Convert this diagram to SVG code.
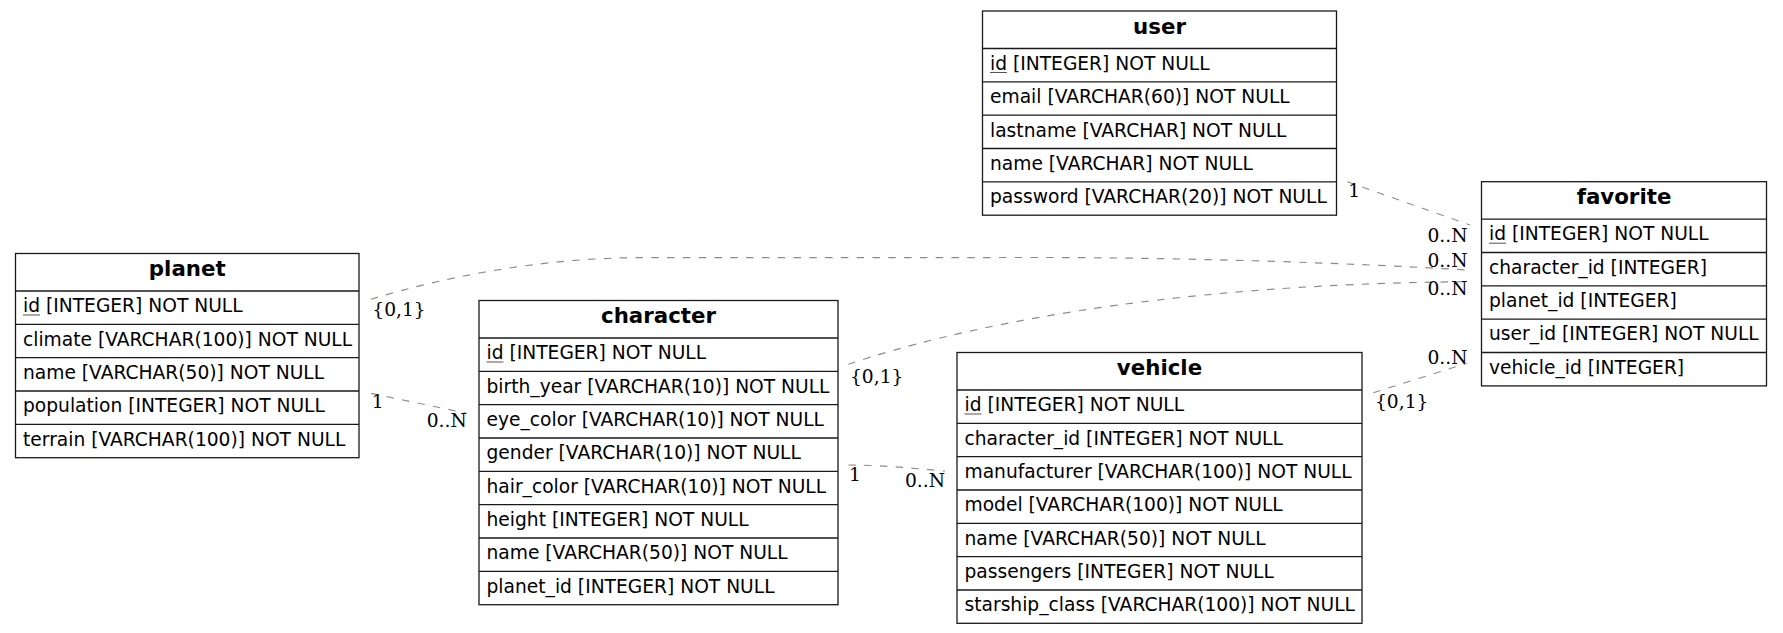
<svg xmlns="http://www.w3.org/2000/svg" width="1783" height="633" viewBox="0 0 1783 633">
<style>
.box{fill:#fff;stroke:#1a1a1a;stroke-width:1.3}
.sep{stroke:#1a1a1a;stroke-width:1.3}
.hdr{font-family:"DejaVu Sans",sans-serif;font-weight:bold;font-size:21.33px;fill:#000;text-anchor:middle}
.row{font-family:"DejaVu Sans",sans-serif;font-size:18.67px;fill:#000}
.ul{stroke:#555;stroke-width:1}
.edge{fill:none;stroke:#8c8c8c;stroke-width:1.2;stroke-dasharray:7.5,8.3}
.lbl{font-family:"DejaVu Serif",serif;font-size:18.67px;fill:#000}
.end{text-anchor:end}
</style>
<g id="connectors">
<path class="edge" d="M371,299.3 C440,278 540,257.7 640,257.7 L1050,257.5 C1200,258 1350,263 1466.7,270"/>
<path class="edge" d="M848.3,364.3 C950,330 1150,284 1470,281.7"/>
<path class="edge" d="M1347.3,181.7 L1470,225"/>
<path class="edge" d="M1373.3,392.7 L1466.7,363.3"/>
<path class="edge" d="M371,393.3 L466.7,413.3"/>
<path class="edge" d="M848.3,465 C880,465 910,468 945,471"/>
<text class="lbl" x="372.3" y="316">{0,1}</text>
<text class="lbl" x="371.7" y="407.5">1</text>
<text class="lbl" x="426.7" y="426.7">0..N</text>
<text class="lbl" x="850" y="382.5">{0,1}</text>
<text class="lbl" x="849" y="480.5">1</text>
<text class="lbl" x="905" y="486.5">0..N</text>
<text class="lbl" x="1348.3" y="196.7">1</text>
<text class="lbl" x="1375" y="407.5">{0,1}</text>
<text class="lbl end" x="1467.5" y="241.7">0..N</text>
<text class="lbl end" x="1467.5" y="266.7">0..N</text>
<text class="lbl end" x="1467.5" y="294.5">0..N</text>
<text class="lbl end" x="1467.5" y="364.3">0..N</text>
</g>
<g id="planet" transform="translate(15.5,253.5)">
<rect class="box" x="0" y="0" width="343.5" height="204.2"/>
<path class="sep" d="M0,37.5H343.5M0,70.8H343.5M0,104.2H343.5M0,137.5H343.5M0,170.8H343.5"/>
<text class="hdr" x="171.75" y="22.8">planet</text>
<text class="row" x="7.5" y="58.8">id [INTEGER] NOT NULL</text>
<line class="ul" x1="7.5" y1="61.5" x2="24.5" y2="61.5"/>
<text class="row" x="7.5" y="92.1">climate [VARCHAR(100)] NOT NULL</text>
<text class="row" x="7.5" y="125.5">name [VARCHAR(50)] NOT NULL</text>
<text class="row" x="7.5" y="158.8">population [INTEGER] NOT NULL</text>
<text class="row" x="7.5" y="192.1">terrain [VARCHAR(100)] NOT NULL</text>
</g>
<g id="character" transform="translate(479,300.5)">
<rect class="box" x="0" y="0" width="359" height="304.2"/>
<path class="sep" d="M0,37.5H359M0,70.8H359M0,104.2H359M0,137.5H359M0,170.8H359M0,204.2H359M0,237.5H359M0,270.8H359"/>
<text class="hdr" x="179.5" y="22.8">character</text>
<text class="row" x="7.5" y="58.8">id [INTEGER] NOT NULL</text>
<line class="ul" x1="7.5" y1="61.5" x2="24.5" y2="61.5"/>
<text class="row" x="7.5" y="92.1">birth_year [VARCHAR(10)] NOT NULL</text>
<text class="row" x="7.5" y="125.5">eye_color [VARCHAR(10)] NOT NULL</text>
<text class="row" x="7.5" y="158.8">gender [VARCHAR(10)] NOT NULL</text>
<text class="row" x="7.5" y="192.1">hair_color [VARCHAR(10)] NOT NULL</text>
<text class="row" x="7.5" y="225.5">height [INTEGER] NOT NULL</text>
<text class="row" x="7.5" y="258.8">name [VARCHAR(50)] NOT NULL</text>
<text class="row" x="7.5" y="292.1">planet_id [INTEGER] NOT NULL</text>
</g>
<g id="vehicle" transform="translate(957,352.5)">
<rect class="box" x="0" y="0" width="405" height="270.8"/>
<path class="sep" d="M0,37.5H405M0,70.8H405M0,104.2H405M0,137.5H405M0,170.8H405M0,204.2H405M0,237.5H405"/>
<text class="hdr" x="202.5" y="22.8">vehicle</text>
<text class="row" x="7.5" y="58.8">id [INTEGER] NOT NULL</text>
<line class="ul" x1="7.5" y1="61.5" x2="24.5" y2="61.5"/>
<text class="row" x="7.5" y="92.1">character_id [INTEGER] NOT NULL</text>
<text class="row" x="7.5" y="125.5">manufacturer [VARCHAR(100)] NOT NULL</text>
<text class="row" x="7.5" y="158.8">model [VARCHAR(100)] NOT NULL</text>
<text class="row" x="7.5" y="192.1">name [VARCHAR(50)] NOT NULL</text>
<text class="row" x="7.5" y="225.5">passengers [INTEGER] NOT NULL</text>
<text class="row" x="7.5" y="258.8">starship_class [VARCHAR(100)] NOT NULL</text>
</g>
<g id="user" transform="translate(982.5,11)">
<rect class="box" x="0" y="0" width="354" height="204.2"/>
<path class="sep" d="M0,37.5H354M0,70.8H354M0,104.2H354M0,137.5H354M0,170.8H354"/>
<text class="hdr" x="177" y="22.8">user</text>
<text class="row" x="7.5" y="58.8">id [INTEGER] NOT NULL</text>
<line class="ul" x1="7.5" y1="61.5" x2="24.5" y2="61.5"/>
<text class="row" x="7.5" y="92.1">email [VARCHAR(60)] NOT NULL</text>
<text class="row" x="7.5" y="125.5">lastname [VARCHAR] NOT NULL</text>
<text class="row" x="7.5" y="158.8">name [VARCHAR] NOT NULL</text>
<text class="row" x="7.5" y="192.1">password [VARCHAR(20)] NOT NULL</text>
</g>
<g id="favorite" transform="translate(1481.5,181.7)">
<rect class="box" x="0" y="0" width="285" height="204.2"/>
<path class="sep" d="M0,37.5H285M0,70.8H285M0,104.2H285M0,137.5H285M0,170.8H285"/>
<text class="hdr" x="142.5" y="22.8">favorite</text>
<text class="row" x="7.5" y="58.8">id [INTEGER] NOT NULL</text>
<line class="ul" x1="7.5" y1="61.5" x2="24.5" y2="61.5"/>
<text class="row" x="7.5" y="92.1">character_id [INTEGER]</text>
<text class="row" x="7.5" y="125.5">planet_id [INTEGER]</text>
<text class="row" x="7.5" y="158.8">user_id [INTEGER] NOT NULL</text>
<text class="row" x="7.5" y="192.1">vehicle_id [INTEGER]</text>
</g>
</svg>
